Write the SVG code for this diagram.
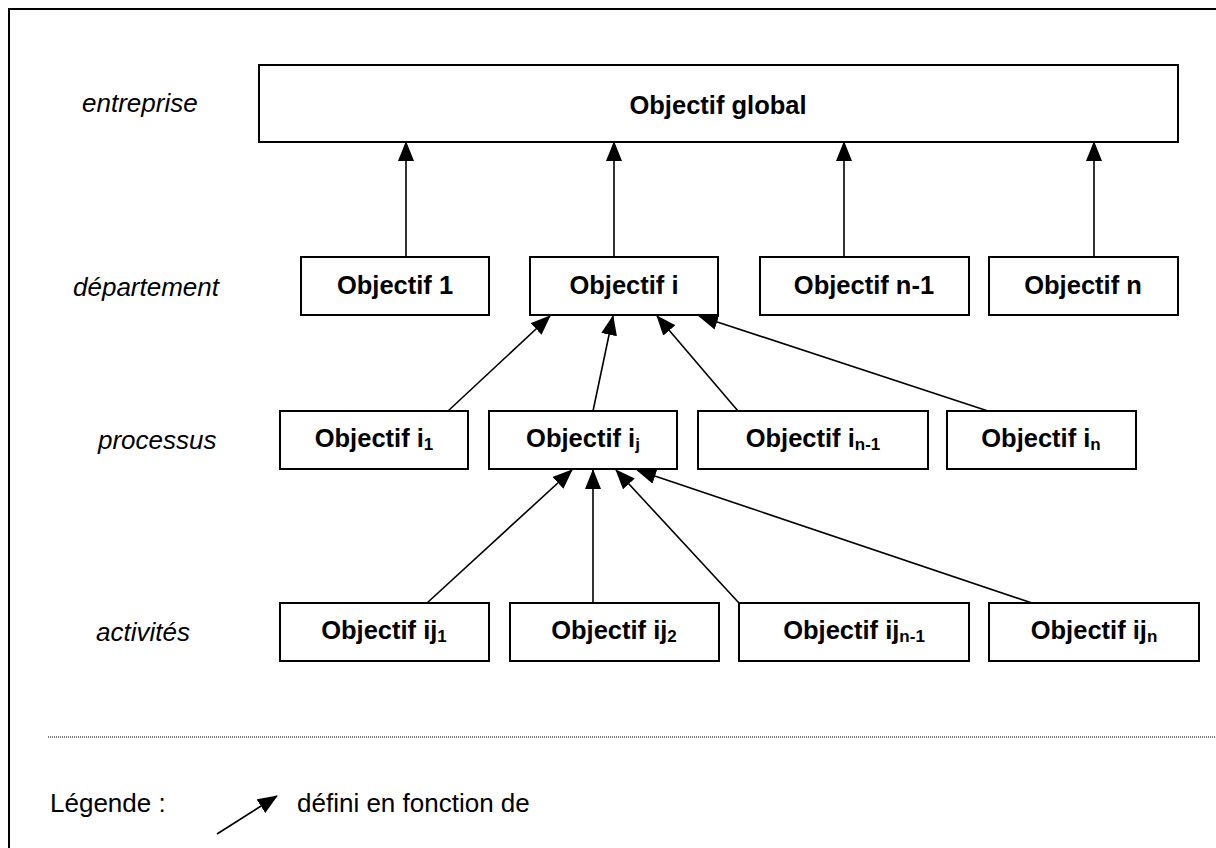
<svg xmlns="http://www.w3.org/2000/svg" width="1216" height="848" viewBox="0 0 1216 848">
<style>
.box{fill:#fff;stroke:#000;stroke-width:2}
.bt{font-family:"Liberation Sans",Arial,sans-serif;font-weight:bold;font-size:25.5px;text-anchor:middle;fill:#000}
.sub{font-size:17px}
.lbl{font-family:"Liberation Sans",Arial,sans-serif;font-style:italic;font-size:26px;fill:#000}
.txt{font-family:"Liberation Sans",Arial,sans-serif;font-size:26px;fill:#000}
.c line{stroke:#000;stroke-width:1.6;marker-end:url(#ah)}
</style>
<defs>
<marker id="ah" markerUnits="userSpaceOnUse" markerWidth="20" markerHeight="16" viewBox="0 0 20 16" refX="19" refY="8" orient="auto">
<path d="M0,0 L20,8 L0,16 Z" fill="#000"/>
</marker>
</defs>
<rect x="9" y="9" width="1300" height="1000" fill="none" stroke="#000" stroke-width="2"/>
<text class="lbl" x="82" y="112">entreprise</text>
<text class="lbl" x="73" y="296">département</text>
<text class="lbl" x="98" y="449">processus</text>
<text class="lbl" x="96" y="641">activités</text>
<g id="global"><rect class="box" x="259" y="65" width="919" height="77"/><text class="bt" x="718" y="114">Objectif global</text></g>
<g id="d1"><rect class="box" x="301" y="257" width="188" height="58"/><text class="bt" x="395" y="294">Objectif 1</text></g>
<g id="di"><rect class="box" x="530" y="257" width="188" height="58"/><text class="bt" x="624" y="294">Objectif i</text></g>
<g id="dn1"><rect class="box" x="760" y="257" width="209" height="58"/><text class="bt" x="864" y="294">Objectif n-1</text></g>
<g id="dn"><rect class="box" x="989" y="257" width="189" height="58"/><text class="bt" x="1083" y="294">Objectif n</text></g>
<g id="p1"><rect class="box" x="280" y="411" width="188" height="58"/><text class="bt" x="374" y="447">Objectif i<tspan class="sub" dy="3">1</tspan></text></g>
<g id="pj"><rect class="box" x="489" y="411" width="188" height="58"/><text class="bt" x="583" y="447">Objectif i<tspan class="sub" dy="3">j</tspan></text></g>
<g id="pn1"><rect class="box" x="698" y="411" width="230" height="58"/><text class="bt" x="813" y="447">Objectif i<tspan class="sub" dy="3">n-1</tspan></text></g>
<g id="pn"><rect class="box" x="947" y="411" width="189" height="58"/><text class="bt" x="1041" y="447">Objectif i<tspan class="sub" dy="3">n</tspan></text></g>
<g id="a1"><rect class="box" x="280" y="603" width="209" height="58"/><text class="bt" x="384" y="639">Objectif ij<tspan class="sub" dy="3">1</tspan></text></g>
<g id="a2"><rect class="box" x="510" y="603" width="209" height="58"/><text class="bt" x="614" y="639">Objectif ij<tspan class="sub" dy="3">2</tspan></text></g>
<g id="an1"><rect class="box" x="739" y="603" width="230" height="58"/><text class="bt" x="854" y="639">Objectif ij<tspan class="sub" dy="3">n-1</tspan></text></g>
<g id="an"><rect class="box" x="989" y="603" width="210" height="58"/><text class="bt" x="1094" y="639">Objectif ij<tspan class="sub" dy="3">n</tspan></text></g>
<g id="connectors" class="c">
<line x1="406" y1="257" x2="406" y2="142"/>
<line x1="614" y1="257" x2="614" y2="142"/>
<line x1="844" y1="257" x2="844" y2="142"/>
<line x1="1094" y1="257" x2="1094" y2="142"/>
<line x1="448" y1="411" x2="550" y2="316"/>
<line x1="593" y1="411" x2="613" y2="316"/>
<line x1="738" y1="411" x2="657" y2="316"/>
<line x1="988" y1="411" x2="699" y2="316"/>
<line x1="427" y1="603" x2="572" y2="470"/>
<line x1="593" y1="603" x2="593" y2="470"/>
<line x1="739" y1="603" x2="616" y2="470"/>
<line x1="1032" y1="603" x2="637" y2="470"/>
</g>
<line x1="48" y1="737" x2="1216" y2="737" stroke="#000" stroke-width="1" stroke-dasharray="1,1"/>
<g id="legend">
<text class="txt" x="50" y="812">Légende :</text>
<g class="c"><line x1="217" y1="834" x2="277" y2="796"/></g>
<text class="txt" x="297" y="812">défini en fonction de</text>
</g>
</svg>
